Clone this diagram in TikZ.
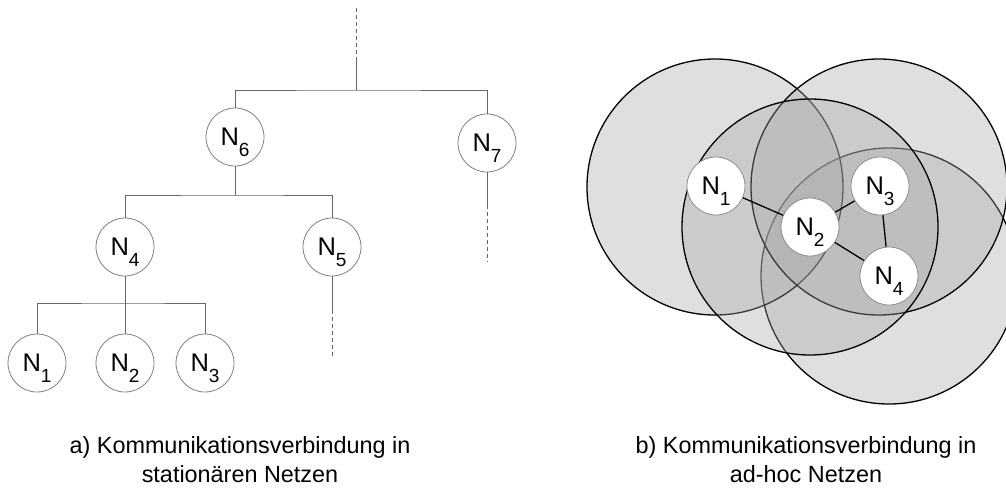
\documentclass[tikz,border=0pt]{standalone}
\usepackage{fontspec}
\setmainfont{Liberation Sans}
\newcommand\Nlab[1]{N\raisebox{-11pt}[0pt][0pt]{\fontsize{19}{19}\selectfont #1}}
\begin{document}
\begin{tikzpicture}[x=1pt,y=-1pt,
  tnode/.style={circle,draw=black!50,fill=white,line width=0.8pt,minimum size=58pt,inner sep=0pt,font=\fontsize{25.5}{25.5}\selectfont},
  rnode/.style={circle,draw=black!45,fill=white,line width=0.8pt,minimum size=58pt,inner sep=0pt,font=\fontsize{25.5}{25.5}\selectfont},
  tline/.style={draw=black!60,line width=0.8pt},
  tdash/.style={tline,dash pattern=on 4pt off 3pt},
  radiocircle/.style={fill=black!35,fill opacity=0.35,draw=black,line width=1.3pt},
  link/.style={draw=black,line width=1.3pt},
  caption/.style={align=center,font=\fontsize{23.4}{29}\selectfont,inner sep=0pt}]
\fill[white] (0,0) rectangle (1006,499);
\useasboundingbox (0,0) rectangle (1006,499);

% ---- left: tree ----
\node[tnode] (t6) at (235,137) {\Nlab{6}};
\node[tnode] (t7) at (487,143) {\Nlab{7}};
\node[tnode] (t4) at (125,247) {\Nlab{4}};
\node[tnode] (t5) at (332,247) {\Nlab{5}};
\node[tnode] (t1) at (37,363) {\Nlab{1}};
\node[tnode] (t2) at (125,363) {\Nlab{2}};
\node[tnode] (t3) at (205,363) {\Nlab{3}};

\coordinate (top0) at (356,8);
\coordinate (top1) at (356,57);
\coordinate (jt) at (356,90);
\coordinate (j6) at (235,195);
\coordinate (j4) at (125,303);
\coordinate (s7) at (487,205);
\coordinate (e7) at (487,262);
\coordinate (s5) at (332,310);
\coordinate (e5) at (332,357);

\draw[tdash] (top0) -- (top1);
\draw[tline] (top1) -- (jt);
\draw[tline] (t6) |- (jt) -| (t7);
\draw[tline] (t7) -- (s7);
\draw[tdash] (s7) -- (e7);
\draw[tline] (t6) -- (j6);
\draw[tline] (t4) |- (j6) -| (t5);
\draw[tline] (t5) -- (s5);
\draw[tdash] (s5) -- (e5);
\draw[tline] (t4) -- (j4);
\draw[tline] (t1) |- (j4) -| (t3);
\draw[tline] (j4) -- (t2);

% ---- right: radio ranges ----
\filldraw[radiocircle] (889,276) circle[radius=128];
\filldraw[radiocircle] (715,187) circle[radius=128];
\filldraw[radiocircle] (879,187) circle[radius=128];
\filldraw[radiocircle] (810,227) circle[radius=128];

\node[rnode] (r1) at (716,186) {\Nlab{1}};
\node[rnode] (r2) at (810,227) {\Nlab{2}};
\node[rnode] (r3) at (880,186) {\Nlab{3}};
\node[rnode] (r4) at (889,276) {\Nlab{4}};
\draw[link] (r1) -- (r2);
\draw[link] (r2) -- (r3);
\draw[link] (r2) -- (r4);
\draw[link] (r3) -- (r4);

% ---- captions ----
\node[caption,anchor=north] (ca) at (240,436) {a) Kommunikationsverbindung in\\stationären Netzen};
\node[caption,anchor=north] (cb) at (806,436) {b) Kommunikationsverbindung in\\ad-hoc Netzen};
\end{tikzpicture}
\end{document}
